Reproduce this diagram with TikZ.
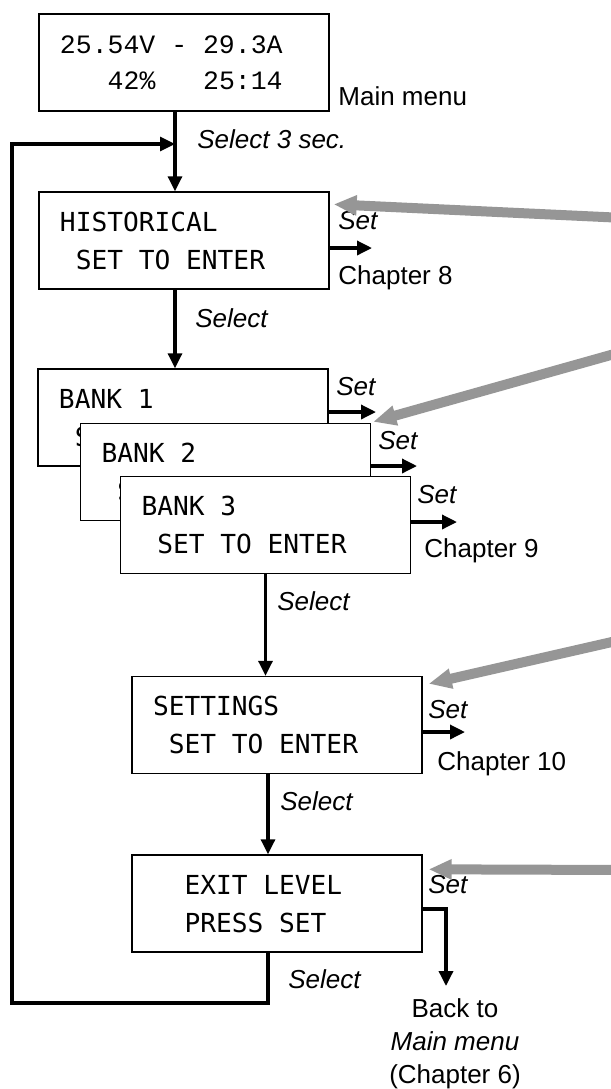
\documentclass[tikz,border=0pt]{standalone}
\usepackage{fontspec}
\setmainfont{Liberation Sans}
\newfontfamily\lcdfont{DejaVu Sans Mono}
\newfontfamily\lcdmain{Liberation Mono}
\usepackage{tikz}
\usetikzlibrary{arrows.meta, positioning, calc}
\definecolor{HINT_GRAY}{HTML}{969696}
\newcommand{\lcdsp}{\phantom{0}}
\tikzset{
  screen/.style={
    rectangle, draw=black, line width=0.7pt, fill=white,
    minimum width=145pt, minimum height=48.5pt,
    inner xsep=10.5pt, inner ysep=0pt,
    text width=124pt, align=left,
    font=\lcdfont\fontsize{13.1pt}{19pt}\selectfont},
  mainscreen/.style={screen,
    font=\lcdmain\fontsize{13.25pt}{18pt}\selectfont},
  lbl/.style={inner sep=0pt, anchor=base west,
    font=\fontsize{13pt}{16.5pt}\selectfont},
  key/.style={lbl, font=\itshape\fontsize{13pt}{16.5pt}\selectfont},
  flow/.style={-{Triangle[length=7.5pt,width=7pt]}, line width=1.6pt},
  setarr/.style={-{Triangle[length=7.5pt,width=7pt]}, line width=1.7pt},
  hint/.style={-{Triangle[length=11.5pt,width=9.5pt]}, line width=5pt, color=HINT_GRAY},
}
\begin{document}
\begin{tikzpicture}[x=0.5pt, y=-0.5pt]
  \useasboundingbox (0,0) rectangle (611,1089);

  % menu screens
  \node[mainscreen] (main) at (184,62.5)
    {25.54V\lcdsp-\lcdsp29.3A\\\lcdsp\lcdsp\lcdsp42\%\lcdsp\lcdsp\lcdsp25:14};
  \node[screen] (hist) at (184,240.5)
    {HISTORICAL\\\lcdsp SET\lcdsp TO\lcdsp ENTER};
  \node[screen] (bank1) at (183,417.5)
    {BANK\lcdsp1\\\lcdsp SET\lcdsp TO\lcdsp ENTER};
  \node[screen] (bank2) at (225.5,472)
    {BANK\lcdsp2\\\lcdsp SET\lcdsp TO\lcdsp ENTER};
  \node[screen] (bank3) at (265.5,525)
    {BANK\lcdsp3\\\lcdsp SET\lcdsp TO\lcdsp ENTER};
  \node[screen] (settings) at (277,725)
    {SETTINGS\\\lcdsp SET\lcdsp TO\lcdsp ENTER};
  \node[screen] (exitlvl) at (277,903.5)
    {\lcdsp\lcdsp EXIT\lcdsp LEVEL\\\lcdsp\lcdsp PRESS\lcdsp SET};

  % labels
  \node[lbl] (mainlbl) at (338,105) {Main menu};
  \node[key] (sel0) at (197,148) {Select 3 sec.};
  \node[key] (set1) at (338,229) {Set};
  \node[lbl] (ch8) at (338,284) {Chapter 8};
  \node[key] (sel1) at (195,327) {Select};
  \node[key] (set2) at (336,395) {Set};
  \node[key] (set3) at (378,449) {Set};
  \node[key] (set4) at (417,503) {Set};
  \node[lbl] (ch9) at (424,557) {Chapter 9};
  \node[key] (sel2) at (277,610) {Select};
  \node[key] (set5) at (428,718) {Set};
  \node[lbl] (ch10) at (437,770) {Chapter 10};
  \node[key] (sel3) at (280,810) {Select};
  \node[key] (set6) at (428,893) {Set};
  \node[key] (sel4) at (288,988) {Select};
  \node[lbl, anchor=north, align=center] (back) at (455,998)
    {Back to\\\textit{Main menu}\\(Chapter 6)};

  % free ends
  \coordinate (join) at (175,144);
  \coordinate (loopbl) at (12,1003);
  \coordinate (o1) at (372,248);
  \coordinate (o2) at (376,412);
  \coordinate (o3) at (417,466);
  \coordinate (o4) at (457,522);
  \coordinate (o5) at (465,732);
  \coordinate (xturn) at (446,909);
  \coordinate (xend) at (446,986);
  \coordinate (g1) at (625,218);
  \coordinate (g2) at (625,351);
  \coordinate (g3) at (625,639);
  \coordinate (g4) at (625,870);

  % Select flow
  \draw[flow] ([xshift=-4.5pt]main.south) -- ([xshift=-4.5pt]hist.north);
  \draw[flow] ([xshift=-4.5pt]hist.south) -- ([xshift=-4pt]bank1.north);
  \draw[flow] (bank3.south) -- (bank3.south |- settings.north);
  \draw[flow] ([xshift=-4.5pt]settings.south) -- ([xshift=-4.5pt]exitlvl.north);
  \draw[flow] ([xshift=-4.5pt]exitlvl.south) |- (loopbl) |- (join);

  % Set exits
  \draw[setarr] (hist.east |- o1) -- (o1);
  \draw[setarr] (bank1.east |- o2) -- (o2);
  \draw[setarr] (bank2.east |- o3) -- (o3);
  \draw[setarr] (bank3.east |- o4) -- (o4);
  \draw[setarr] (settings.east |- o5) -- (o5);
  \draw[setarr] (exitlvl.east |- xturn) -- (xturn) -- (xend);

  % gray pointers
  \draw[hint] (g1) -- ([xshift=2pt,yshift=-6.5pt]hist.north east);
  \draw[hint] (g2) -- ([xshift=1pt,yshift=0.5pt]bank2.north east);
  \draw[hint] (g3) -- ([xshift=3pt,yshift=-4pt]settings.north east);
  \draw[hint] (g4) -- ([xshift=3pt,yshift=-7.5pt]exitlvl.north east);

\end{tikzpicture}
\end{document}
